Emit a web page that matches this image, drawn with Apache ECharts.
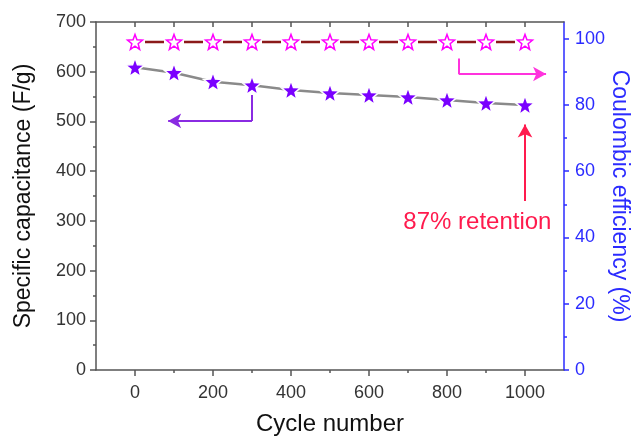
<!DOCTYPE html>
<html>
<head>
<meta charset="utf-8">
<script src="https://cdn.jsdelivr.net/npm/echarts@6/dist/echarts.min.js"></script>
<style>
  html, body { margin: 0; padding: 0; background: #fff; }
  #chart { width: 631px; height: 438px; }
</style>
</head>
<body>
<div id="chart"></div>
<script>
// cycle data
const cycles = [0, 100, 200, 300, 400, 500, 600, 700, 800, 900, 1000];
const capacitance = [609, 598, 580, 573, 563, 557, 553, 549, 543, 537, 533];
const efficiency = [99, 99, 99, 99, 99, 99, 99, 99, 99, 99, 99];

const xLabels = [0, 200, 400, 600, 800, 1000];
const xMinor = [100, 300, 500, 700, 900];
const rightLabels = [0, 20, 40, 60, 80, 100];
const rightMinor = [10, 30, 50, 70, 90];

// annotation anchors (data units)
const capArrow = [[300, 553], [300, 501], [85, 501]];
const ceArrow = [[830, 94], [830, 89.3], [1054, 89.3]];
const retentionArrow = [[1000, 340], [1000, 494]];
const retentionText = [878, 296];

const STAR = "path://M50,0 L62.3,33 L97.6,34.5 L70,56.5 L79.4,90.5 L50,71 L20.6,90.5 L30,56.5 L2.4,34.5 L37.7,33 Z";
const FONT = "Liberation Sans, Arial, sans-serif";
const AXIS = "#555";
const BLUE = "#2b2bff";

const chart = echarts.init(document.getElementById("chart"));

function arrowPath(pts, color) {
  // polyline as consecutive markLine segments, arrow head on the last one
  const segs = [];
  for (let i = 0; i < pts.length - 1; i++) {
    const last = i === pts.length - 2;
    segs.push([
      { coord: pts[i], symbol: "none", lineStyle: { color: color, width: 2, type: "solid" } },
      { coord: pts[i + 1], symbol: last ? "arrow" : "none", symbolSize: last ? [11, 13] : 0 }
    ]);
  }
  return segs;
}

const option = {
  animation: false,
  textStyle: { fontFamily: FONT },
  grid: { left: 96, right: 67, top: 22, bottom: 68, outerBoundsMode: "none", containLabel: false },
  xAxis: [
    {
      type: "value", position: "bottom", min: -100, max: 1100, interval: 100,
      name: "Cycle number", nameLocation: "middle", nameGap: 42,
      nameTextStyle: { fontSize: 24, color: "#111", fontFamily: FONT },
      axisLine: { show: true, onZero: false, lineStyle: { color: AXIS, width: 1.5 } },
      axisTick: { show: true, customValues: xLabels, length: 6, lineStyle: { color: AXIS, width: 1.5 } },
      axisLabel: { customValues: xLabels, fontSize: 18, color: "#333", margin: 14, formatter: v => String(v) },
      splitLine: { show: false }
    },
    {
      type: "value", position: "bottom", min: -100, max: 1100,
      axisLine: { show: false, onZero: false },
      axisTick: { show: true, customValues: xMinor, length: 3, lineStyle: { color: AXIS, width: 1.5 } },
      axisLabel: { show: false },
      splitLine: { show: false }
    },
    {
      type: "value", position: "top", min: -100, max: 1100,
      axisLine: { show: true, onZero: false, lineStyle: { color: AXIS, width: 1.5 } },
      axisTick: { show: true, inside: true, customValues: cycles, length: 5, lineStyle: { color: AXIS, width: 1.5 } },
      axisLabel: { show: false },
      splitLine: { show: false }
    }
  ],
  yAxis: [
    {
      type: "value", position: "left", min: 0, max: 700, interval: 100,
      name: "Specific capacitance (F/g)", nameLocation: "middle", nameGap: 61,
      nameTextStyle: { fontSize: 23, color: "#111", fontFamily: FONT },
      axisLine: { show: true, onZero: false, lineStyle: { color: AXIS, width: 1.5 } },
      axisTick: { show: true, length: 6, lineStyle: { color: AXIS, width: 1.5 } },
      minorTick: { show: true, splitNumber: 2, length: 3, lineStyle: { color: AXIS, width: 1.5 } },
      axisLabel: { fontSize: 18, color: "#333", margin: 10 },
      splitLine: { show: false }
    },
    {
      type: "value", position: "right", min: 0, max: 105,
      name: "Coulombic efficiency (%)", nameLocation: "middle", nameGap: 44, nameRotate: -90,
      nameMoveOverlap: false,
      nameTextStyle: { fontSize: 23, color: BLUE, fontFamily: FONT },
      axisLine: { show: true, onZero: false, lineStyle: { color: BLUE, width: 1.5 } },
      axisTick: { show: true, customValues: rightLabels, length: 5, lineStyle: { color: BLUE, width: 1.5 } },
      axisLabel: { customValues: rightLabels, fontSize: 18, color: BLUE, margin: 11 },
      splitLine: { show: false }
    },
    {
      type: "value", position: "right", min: 0, max: 105,
      axisLine: { show: false, onZero: false },
      axisTick: { show: true, customValues: rightMinor, length: 3, lineStyle: { color: BLUE, width: 1.5 } },
      axisLabel: { show: false },
      splitLine: { show: false }
    }
  ],
  series: [
    {
      name: "Coulombic efficiency",
      type: "line",
      xAxisIndex: 0,
      yAxisIndex: 1,
      data: cycles.map((c, i) => [c, efficiency[i]]),
      symbol: STAR,
      symbolSize: 15,
      itemStyle: { color: "#fff", borderColor: "#ff00ff", borderWidth: 1.5 },
      lineStyle: { color: "#8b1a1a", width: 2.5, type: [19, 20], dashOffset: -10 },
      z: 3,
      markLine: {
        silent: true,
        animation: false,
        label: { show: false },
        data: arrowPath(ceArrow, "#ff33dd")
      }
    },
    {
      name: "Specific capacitance",
      type: "line",
      xAxisIndex: 0,
      yAxisIndex: 0,
      data: cycles.map((c, i) => [c, capacitance[i]]),
      symbol: STAR,
      symbolSize: 19,
      itemStyle: { color: "#7a00ff", borderColor: "#fff", borderWidth: 1.5 },
      lineStyle: { color: "#8a8a8a", width: 2.5 },
      z: 3,
      markLine: {
        silent: true,
        animation: false,
        label: { show: false },
        data: arrowPath(capArrow, "#8a2be2").concat(arrowPath(retentionArrow, "#ff1a4d"))
      },
      markPoint: {
        silent: true,
        symbol: "circle",
        symbolSize: 0,
        data: [{
          coord: retentionText,
          label: {
            show: true, position: "inside", formatter: "87% retention",
            fontSize: 24, color: "#ff1a4d", fontFamily: FONT
          }
        }]
      }
    }
  ]
};

chart.setOption(option);
window.addEventListener("resize", () => chart.resize());
</script>
</body>
</html>
